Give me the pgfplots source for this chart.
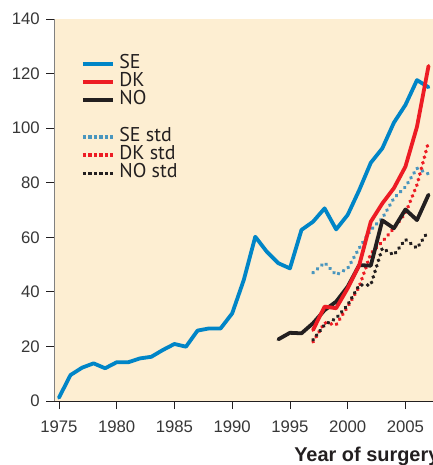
\documentclass[border=0pt]{standalone}
\usepackage{fontspec}
\setmainfont{Liberation Sans}
\newfontfamily\legfont{PT Sans}
\usepackage{pgfplots}
\pgfplotsset{compat=1.18}
\definecolor{bg}{RGB}{253,238,210}
\definecolor{seblue}{RGB}{0,133,199}
\definecolor{sestd}{RGB}{74,150,190}
\definecolor{dkred}{RGB}{237,28,36}
\definecolor{noblack}{RGB}{35,31,32}
\definecolor{tickgray}{RGB}{55,55,55}
\tikzset{
  solidline/.style={line width=3.8bp, line join=round, line cap=round},
  dotline/.style={line width=3.8bp, line cap=round, dash pattern=on 0.3bp off 5.5bp},
}
\begin{document}
\begin{tikzpicture}
\begin{axis}[
  at={(0,0)}, anchor=south west,
  scale only axis, width=380bp, height=382bp,
  xmin=1974.6, xmax=2007.5, ymin=0, ymax=140,
  axis lines*=left,
  axis background/.style={fill=bg},
  xtick={1975,1980,...,2005}, ytick={0,20,...,140},
  tick align=outside, major tick length=8bp,
  tick style={line width=0.8bp, color=noblack},
  x axis line style={line width=0.9bp, color=noblack},
  y axis line style={line width=0.9bp, color=gray},
  /pgf/number format/1000 sep={},
  /pgf/number format/assume math mode=true,
  ticklabel style={font=\fontsize{16.8}{19}\selectfont, text=tickgray},
  xticklabel style={yshift=-8bp},
  yticklabel style={xshift=-3bp},
  xlabel={Year of surgery},
  xlabel style={at={(axis description cs:0.631,-0.159)}, anchor=base west, inner sep=0pt, font=\bfseries\fontsize{20}{24}\selectfont, text=noblack},
  legend style={at={(axis description cs:0.062,0.912)}, anchor=north west, draw=none, fill=none,
    font=\legfont\fontsize{20}{22}\selectfont, row sep=0pt,
    nodes={inner ysep=1pt, inner xsep=4.5bp, text height=12.5pt, text depth=3.8pt, text=noblack}},
  legend cell align=left,
  legend image code/.code={\draw[#1] (0bp,0bp) -- (30bp,0bp);},
]
% SE
\addplot[seblue, solidline, forget plot] coordinates {
(1975,1.2)(1976,9.5)(1977,12.2)(1978,13.8)(1979,12.0)(1980,14.2)(1981,14.2)(1982,15.6)(1983,16.2)(1984,18.7)
(1985,20.9)(1986,19.9)(1987,25.8)(1988,26.6)(1989,26.6)(1990,32.1)(1991,44.3)(1992,60.2)(1993,54.7)(1994,50.5)
(1995,48.6)(1996,62.7)(1997,65.7)(1998,70.6)(1999,62.9)(2000,68.2)(2001,77.3)(2002,87.3)(2003,92.6)(2004,102.0)
(2005,108.5)(2006,117.6)(2007,115.0)};
% SE std
\addplot[sestd, dotline, forget plot] coordinates {
(1997,47.0)(1998,50.7)(1999,46.2)(2000,48.6)(2001,56.0)(2002,62.7)(2003,67.0)(2004,74.3)(2005,78.5)(2006,85.3)(2007,83.2)};
% DK std
\addplot[dkred, dotline, forget plot] coordinates {
(1997,21.7)(1998,28.7)(1999,27.9)(2000,34.6)(2001,41.9)(2002,54.1)(2003,58.4)(2004,63.3)(2005,68.8)(2006,79.2)(2007,95.0)};
% NO std
\addplot[noblack, dotline, forget plot] coordinates {
(1997,22.4)(1998,27.9)(1999,30.3)(2000,35.2)(2001,42.5)(2002,42.5)(2003,56.0)(2004,53.5)(2005,59.2)(2006,56.0)(2007,62.4)};
% NO
\addplot[noblack, solidline, forget plot] coordinates {
(1994,22.6)(1995,25.0)(1996,24.8)(1997,28.5)(1998,33.3)(1999,36.4)(2000,41.9)(2001,49.8)(2002,49.6)(2003,66.2)
(2004,63.3)(2005,70.2)(2006,66.3)(2007,75.6)};
% DK
\addplot[dkred, solidline, forget plot] coordinates {
(1997,26.0)(1998,34.6)(1999,34.0)(2000,41.3)(2001,49.8)(2002,65.7)(2003,72.4)(2004,78.0)(2005,85.9)(2006,100.5)(2007,122.8)};

\addlegendimage{seblue, line width=3.8bp}\addlegendentry{SE}
\addlegendimage{dkred, line width=3.8bp}\addlegendentry{DK}
\addlegendimage{noblack, line width=3.8bp}\addlegendentry{NO}
\addlegendimage{empty legend}\addlegendentry{}
\addlegendimage{sestd, line width=3.6bp, dash pattern=on 3.4bp off 2.1bp}\addlegendentry{SE std}
\addlegendimage{dkred, line width=3.6bp, dash pattern=on 3.4bp off 2.1bp}\addlegendentry{DK std}
\addlegendimage{noblack, line width=3.6bp, dash pattern=on 3.4bp off 2.1bp}\addlegendentry{NO std}
\end{axis}
\pgfresetboundingbox
\useasboundingbox (-54.3bp,-64bp) rectangle (378.7bp,401bp);
\end{tikzpicture}
\end{document}
